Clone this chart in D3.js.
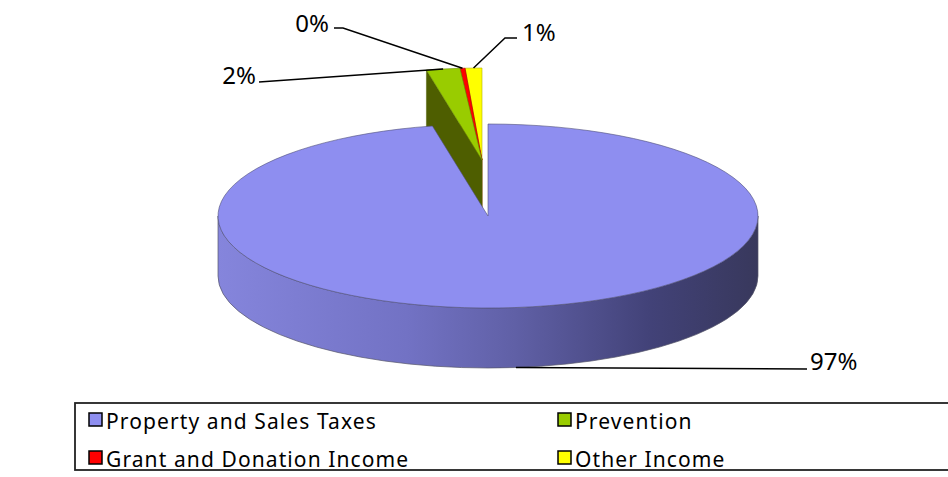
<!DOCTYPE html>
<html>
<head>
<meta charset="utf-8">
<script src="https://cdn.jsdelivr.net/npm/d3@7"></script>
<style>
  body { margin: 0; background: #fff; }
  svg { display: block; }
  text { font-family: 'Noto Sans', 'DejaVu Sans', sans-serif; fill: #000; }
</style>
</head>
<body>
<svg id="chart" width="948" height="477"></svg>
<script>
// revenue share, percent
const categories = ['Property and Sales Taxes', 'Prevention', 'Grant and Donation Income', 'Other Income'];
const values = [96.7, 2.0, 0.3, 1.0];
const valueLabels = ['97%', '2%', '0%', '1%'];
const exploded = [false, true, true, true];

const topColors = ['#8e8ef0', '#99cc00', '#ff0000', '#ffff00'];
const wallColors = ['#6a6ab8', '#4e5e00', '#800000', '#8a8a00'];

const svg = d3.select('#chart');
const cx = 488;
const cy = 216;
const rx = 270;
const ry = 92;
const depth = 60;
const explode = { x: -6, y: -56 };

const pie = d3.pie().sort(null).startAngle(0).endAngle(2 * Math.PI);
const arcs = pie(values);

// angle measured clockwise from 12 o'clock
const pt = (a, o, dy) => [o.x + rx * Math.sin(a), o.y - ry * Math.cos(a) + (dy || 0)];
const originOf = (i) => exploded[i] ? { x: cx + explode.x, y: cy + explode.y } : { x: cx, y: cy };

const topPath = (d, o) => {
  const p0 = pt(d.startAngle, o);
  const p1 = pt(d.endAngle, o);
  const large = d.endAngle - d.startAngle > Math.PI ? 1 : 0;
  return `M${o.x},${o.y}L${p0}A${rx},${ry} 0 ${large} 1 ${p1}Z`;
};

const startWallPath = (d, o) => {
  const p = pt(d.startAngle, o);
  return `M${o.x},${o.y}L${p}L${p[0]},${p[1] + depth}L${o.x},${o.y + depth}Z`;
};

const sidePath = (a0, a1, o) => {
  const p0 = pt(a0, o);
  const p1 = pt(a1, o);
  return `M${p0}A${rx},${ry} 0 0 1 ${p1}L${p1[0]},${p1[1] + depth}` +
    `A${rx},${ry} 0 0 0 ${p0[0]},${p0[1] + depth}Z`;
};

const defs = svg.append('defs');
const grad = defs.append('linearGradient')
  .attr('id', 'sideGrad')
  .attr('gradientUnits', 'userSpaceOnUse')
  .attr('x1', cx - rx).attr('x2', cx + rx)
  .attr('y1', 0).attr('y2', 0);
[[0, '#8585dc'], [0.35, '#7272c4'], [0.55, '#6060a6'], [0.8, '#424278'], [1, '#38385c']]
  .forEach(([o, c]) => grad.append('stop').attr('offset', o).attr('stop-color', c));

const pieG = svg.append('g');

// exploded slices first, right to left so the front-most one ends on top
arcs.map((d, i) => ({ d, i }))
  .filter((s) => exploded[s.i])
  .reverse()
  .forEach(({ d, i }) => {
    const o = originOf(i);
    pieG.append('path')
      .attr('d', startWallPath(d, o))
      .attr('fill', wallColors[i])
      .attr('stroke', wallColors[i])
      .attr('stroke-width', 0.5);
    pieG.append('path')
      .attr('d', topPath(d, o))
      .attr('fill', topColors[i])
      .attr('stroke', d3.color(topColors[i]).darker(1))
      .attr('stroke-width', 0.6);
  });

// big slice: front side then top
arcs.filter((d, i) => !exploded[i]).forEach((d) => {
  const o = { x: cx, y: cy };
  const a0 = Math.max(d.startAngle, Math.PI / 2);
  const a1 = Math.min(d.endAngle, Math.PI * 1.5);
  pieG.append('path')
    .attr('d', sidePath(a0, a1, o))
    .attr('fill', 'url(#sideGrad)')
    .attr('stroke', '#55556a')
    .attr('stroke-width', 1)
    .attr('stroke-opacity', 0.7);
  pieG.append('path')
    .attr('d', topPath(d, o))
    .attr('fill', topColors[0])
    .attr('stroke', '#50507a')
    .attr('stroke-width', 1)
    .attr('stroke-opacity', 0.6);
});

// data labels with leader lines
const labelSpots = [
  { x: 810, y: 370, anchor: 'start', line: [[807, 369]] },
  { x: 256, y: 84, anchor: 'end', line: [[259, 82]] },
  { x: 329, y: 32, anchor: 'end', line: [[334, 28], [343, 28]] },
  { x: 522, y: 41, anchor: 'start', line: [[517, 38], [505, 38]] }
];

arcs.forEach((d, i) => {
  const spot = labelSpots[i];
  const mid = (d.startAngle + d.endAngle) / 2;
  const anchorPt = exploded[i] ? pt(mid, originOf(i)) : pt(mid, originOf(i), depth);
  svg.append('path')
    .attr('d', d3.line()(spot.line.concat([anchorPt])))
    .attr('fill', 'none')
    .attr('stroke', '#000')
    .attr('stroke-width', 1.5);
  svg.append('text')
    .attr('x', spot.x)
    .attr('y', spot.y)
    .attr('text-anchor', spot.anchor)
    .style('font-size', '24px')
    .text(valueLabels[i]);
});

// legend
const legend = svg.append('g');
legend.append('rect')
  .attr('x', 75).attr('y', 403)
  .attr('width', 900).attr('height', 67)
  .attr('fill', '#fff')
  .attr('stroke', '#222')
  .attr('stroke-width', 1.8);

const cols = [89, 558];
const rows = [413, 451];
categories.forEach((c, i) => {
  const gx = cols[i % 2];
  const gy = rows[Math.floor(i / 2)];
  legend.append('rect')
    .attr('x', gx).attr('y', gy)
    .attr('width', 13).attr('height', 13)
    .attr('fill', topColors[i])
    .attr('stroke', '#000')
    .attr('stroke-width', 1.5);
  legend.append('text')
    .attr('x', gx + 17)
    .attr('y', gy + 16)
    .style('font-size', '21px')
    .style('letter-spacing', '1.1px')
    .text(c);
});
</script>
</body>
</html>
